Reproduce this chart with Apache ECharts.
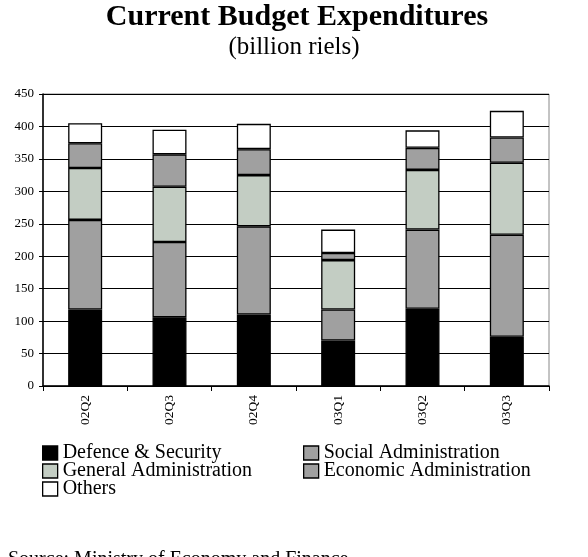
<!DOCTYPE html>
<html>
<head>
<meta charset="utf-8">
<script src="https://cdn.jsdelivr.net/npm/echarts@6/dist/echarts.min.js"></script>
<style>
html,body{margin:0;padding:0;background:#fff;}
#chart{width:588px;height:557px;}
</style>
</head>
<body>
<div id="chart"></div>
<script>
const categories = ['02Q2', '02Q3', '02Q4', '03Q1', '03Q2', '03Q3'];
const defence = [118, 106, 110, 70, 119, 76];
const social = [138, 116, 136, 48, 122, 157];
const general = [80, 85, 79, 76, 92, 111];
const economic = [38, 50, 40, 11, 34, 39];
const others = [31, 38, 39, 36, 27, 41];

const FONT = '"Times New Roman", "Liberation Serif", serif';
const chart = echarts.init(document.getElementById('chart'));

function mk(name, data, color) {
  return {
    name: name, type: 'bar', stack: 'total', data: data,
    barWidth: 34,
    itemStyle: { color: color, borderColor: '#000', borderWidth: 1.3 },
    emphasis: { disabled: true }
  };
}

const legendText = { fontFamily: FONT, fontSize: 20, color: '#000', lineHeight: 18 };
const legendIcon = { borderColor: '#000', borderWidth: 1.3 };

chart.setOption({
  animation: false,
  backgroundColor: '#fff',
  title: [
    { text: 'Current Budget Expenditures', left: 292, textAlign: 'center', top: -3,
      textStyle: { fontFamily: FONT, fontSize: 30, fontWeight: 'bold', color: '#000' } },
    { text: '(billion riels)', left: 289, textAlign: 'center', top: 30,
      textStyle: { fontFamily: FONT, fontSize: 25, fontWeight: 'normal', color: '#000' } },
    { text: 'Source: Ministry of Economy and Finance', left: 3, top: 545,
      textStyle: { fontFamily: FONT, fontSize: 20, fontWeight: 'normal', color: '#000' } }
  ],
  legend: [
    { orient: 'vertical', left: 42, top: 443, itemWidth: 15, itemHeight: 14, itemGap: -2,
      icon: 'rect', data: ['Defence & Security', 'General Administration', 'Others'],
      textStyle: legendText, itemStyle: legendIcon, selectedMode: false, padding: 0 },
    { orient: 'vertical', left: 303, top: 443, itemWidth: 15, itemHeight: 14, itemGap: -2,
      icon: 'rect', data: ['Social Administration', 'Economic Administration'],
      textStyle: legendText, itemStyle: legendIcon, selectedMode: false, padding: 0 }
  ],
  grid: { left: 43, right: 39, top: 94, bottom: 171, show: true, borderColor: '#888', borderWidth: 1 },
  xAxis: {
    type: 'category', data: categories,
    axisLine: { lineStyle: { color: '#000', width: 1.5 } },
    axisTick: { show: true, length: 5, lineStyle: { color: '#000' } },
    axisLabel: { rotate: 90, fontFamily: FONT, fontSize: 13.5, color: '#000', margin: 9 }
  },
  yAxis: {
    type: 'value', min: 0, max: 450, interval: 50,
    axisLine: { show: true, lineStyle: { color: '#000', width: 1.5 } },
    axisTick: { show: true, length: 4, lineStyle: { color: '#000' } },
    splitLine: { lineStyle: { color: '#000', width: 1 } },
    axisLabel: { fontFamily: FONT, fontSize: 13, color: '#000', margin: 9 }
  },
  series: [
    mk('Defence & Security', defence, '#000000'),
    mk('Social Administration', social, '#a0a0a0'),
    mk('General Administration', general, '#c3cdc3'),
    mk('Economic Administration', economic, '#a0a0a0'),
    mk('Others', others, '#ffffff')
  ]
});
</script>
</body>
</html>
